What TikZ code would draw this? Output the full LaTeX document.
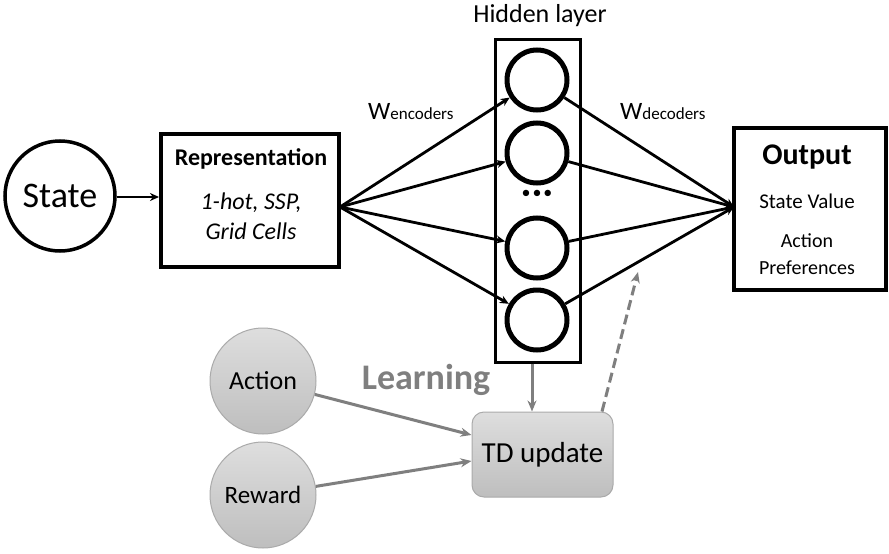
\documentclass[tikz,border=0pt]{standalone}
\usepackage{fontspec}
\setmainfont{Carlito}
\usetikzlibrary{arrows.meta}
\definecolor{lgray}{RGB}{127,127,127}
\definecolor{gtop}{RGB}{222,222,222}
\definecolor{gbot}{RGB}{190,190,190}
\definecolor{gborder}{RGB}{170,170,170}
\newcommand{\fs}[1]{\fontsize{#1}{#1}\selectfont}
\tikzset{
  blackarrow/.style={line width=2.8pt, -{Stealth[length=9pt,width=8pt]}},
  grayarrow/.style={line width=3pt, draw=lgray, -{Stealth[length=11pt,width=9pt]}},
  neuron/.style={circle, draw, line width=5pt, minimum size=60pt, inner sep=0pt},
  thickbox/.style={rectangle, draw, line width=4pt, inner sep=0pt},
  graycirc/.style={circle, draw=gborder, line width=1pt, top color=gtop, bottom color=gbot, minimum size=106pt, inner sep=0pt},
}
\begin{document}
\begin{tikzpicture}[x=1pt,y=-1pt]
\useasboundingbox (0,0) rectangle (889,554);
% State
\node[circle, draw, line width=3.5pt, minimum size=110pt, inner sep=0pt, font=\fs{36}] (state) at (60,196) {State};
% Representation
\node[thickbox, minimum width=178pt, minimum height=133pt] (rep) at (250,200.5) {};
\node[font=\bfseries\fs{24}] (reptitle) at (251,159) {Representation};
\node[font=\itshape\fs{24}] (repl1) at (251,203) {1-hot, SSP,};
\node[font=\itshape\fs{24}] (repl2) at (251,231) {Grid Cells};
\draw[blackarrow] (state.east |- 0,197) coordinate (se) -- (rep.west |- se);
% Hidden layer
\node[rectangle, draw, line width=3pt, minimum width=85pt, minimum height=323pt, inner sep=0pt] (hid) at (537.5,200.5) {};
\node[font=\fs{26}] (hidlabel) at (540,16) {Hidden layer};
\node[neuron] (n1) at (537,80) {};
\node[neuron] (n2) at (537,153) {};
\node[neuron] (n3) at (537,248) {};
\node[neuron] (n4) at (537,320) {};
\node[font=\fs{18}] (dots) at (537,194) {\textbullet\hspace{2pt}\textbullet\hspace{2pt}\textbullet};
% Output
\node[thickbox, minimum width=152pt, minimum height=162pt] (out) at (810,209) {};
\node[font=\bfseries\fs{30}] (outtitle) at (807,157) {Output};
\node[font=\fs{21}] (outl1) at (807,201) {State Value};
\node[font=\fs{20}] (outl2) at (807,241) {Action};
\node[font=\fs{20}] (outl3) at (807,268) {Preferences};
% weights
\coordinate (encsrc) at (340,207);
\coordinate (dectgt) at (734,207);
\foreach \n in {n1,n2,n3,n4} {
  \draw[blackarrow] (encsrc) -- (\n);
  \draw[blackarrow] (\n) -- (dectgt);
}
\node[anchor=base west, inner sep=0pt] (wenc) at (368,119) {\fs{25}W\fs{17}encoders};
\node[anchor=base west, inner sep=0pt] (wdec) at (620,119) {\fs{25}W\fs{17}decoders};
% Learning part
\node[graycirc, font=\fs{26}] (action) at (263,381) {Action};
\node[graycirc, font=\fs{25}] (reward) at (263,495) {Reward};
\node[rectangle, rounded corners=12pt, draw=gborder, line width=1pt, top color=gtop, bottom color=gbot, minimum width=141pt, minimum height=85pt, font=\fs{29}] (td) at (542.5,454.5) {TD update};
\node[font=\bfseries\fs{36}, text=lgray] (learning) at (426,380) {Learning};
\draw[grayarrow] (action) -- (td.west |- 0,435);
\draw[grayarrow] (reward) -- (td.west |- 0,461);
\draw[grayarrow] (hid.south -| 532,0) -- (td.north -| 532,0);
\coordinate (dashend) at (638,272);
\draw[grayarrow, dashed, dash pattern=on 10pt off 5pt] (td.north -| 602,0) -- (dashend);
\end{tikzpicture}
\end{document}
